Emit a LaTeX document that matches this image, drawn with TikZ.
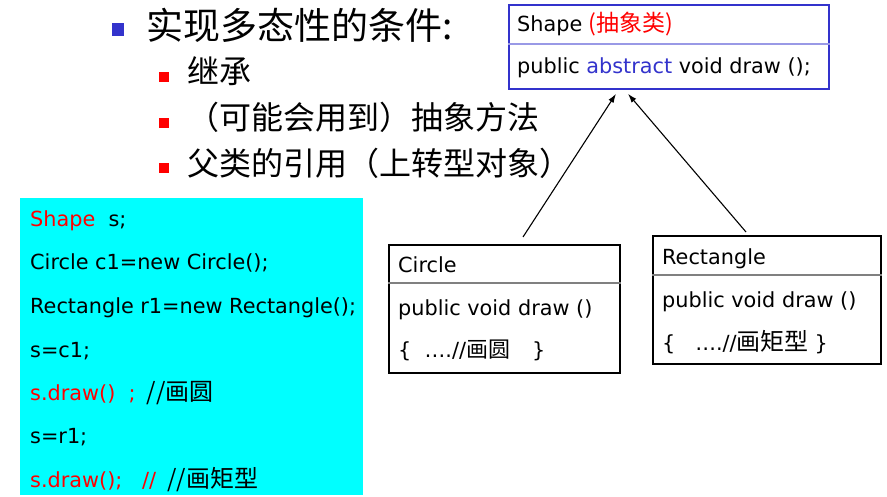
\documentclass[tikz,border=0pt]{standalone}
\usepackage{fontspec}
\setmainfont{DejaVu Sans}
\newfontfamily\cjk{Noto Sans CJK SC}
\usetikzlibrary{arrows.meta}
\definecolor{bblue}{HTML}{3333CC}
\definecolor{divblue}{HTML}{9999E6}
\definecolor{cyanbg}{HTML}{00FFFF}
\definecolor{rred}{HTML}{FF0000}
\newcommand{\cjkin}[1]{{\cjk\fontsize{23}{27}\selectfont #1}}
\newcommand{\cjkcode}[1]{{\cjk\fontsize{24}{28}\selectfont #1}}
\newcommand{\cjkbox}[1]{{\cjk\fontsize{22}{26}\selectfont #1}}
\begin{document}
\begin{tikzpicture}[x=1pt,y=-1pt,
  umlbox/.style={draw=black, line width=1.8pt, anchor=north west, inner sep=0pt},
  txt/.style={anchor=base west, inner sep=0pt, font=\fontsize{20.8}{25}\selectfont},
  divider/.style={line width=1.3pt, draw=gray},
  bluesq/.style={fill=bblue, draw=none, anchor=north west, inner sep=0pt, minimum width=12pt, minimum height=13pt},
  redsq/.style={fill=rred, draw=none, anchor=north west, inner sep=0pt, minimum width=10pt, minimum height=10pt},
  heading/.style={anchor=base west, inner sep=0pt, font=\cjk\fontsize{37}{42}\selectfont},
  subitem/.style={anchor=base west, inner sep=0pt, font=\cjk\fontsize{32}{38}\selectfont},
  inherit/.style={line width=1.1pt, -{Latex[length=9pt,width=6pt]}}
]
\useasboundingbox (0,0) rectangle (887,497);
\fill[white] (0,0) rectangle (887,497);

% headings
\node[bluesq] (b0) at (112,23) {};
\node[heading] (h0) at (146,40) {实现多态性的条件:};
\node[redsq] (b1) at (159,72) {};
\node[subitem] (h1) at (187,84) {继承};
\node[redsq] (b2) at (159,118) {};
\node[subitem] (h2) at (187,130) {（可能会用到）抽象方法};
\node[redsq] (b3) at (159,163) {};
\node[subitem] (h3) at (187,176) {父类的引用（上转型对象）};

% Shape box
\node[umlbox, draw=bblue, minimum width=320pt, minimum height=84pt] (shape) at (508,4) {};
\draw[line width=1.3pt, draw=divblue] (shape.west |- 0,44) coordinate (sdl) -- (shape.east |- 0,44) coordinate (sdr);
\node[txt] (st) at (517,32) {Shape \textcolor{rred}{\cjkin{(抽象类)}}};
\node[txt] (sm) at (517,74) {public \textcolor{bblue}{abstract} void draw ();};

% Circle box
\node[umlbox, minimum width=231pt, minimum height=128pt] (circ) at (388,244) {};
\draw[divider] (circ.west |- 0,283) -- (circ.east |- 0,283);
\node[txt] (ct) at (398,273) {Circle};
\node[txt] (cm) at (398,316) {public void draw ()};
\node[txt] (cb) at (398,358) {\{\ \ ….//\cjkbox{画圆}\hspace{22pt}\}};

% Rectangle box
\node[umlbox, minimum width=228pt, minimum height=128pt] (rect) at (652,235) {};
\draw[divider] (rect.west |- 0,275) -- (rect.east |- 0,275);
\node[txt] (rt) at (662,265) {Rectangle};
\node[txt] (rm) at (662,308) {public void draw ()};
\node[txt] (rb) at (662,350) {\{\ \ \ ….//\cjkcode{画矩型}\hspace{6pt}\}};

% arrows
\draw[inherit] ([xshift=135pt,yshift=7pt]circ.north west) -- ([xshift=108pt,yshift=-4pt]shape.south west);
\draw[inherit] ([xshift=94pt,yshift=3pt]rect.north west) -- ([xshift=120pt,yshift=-4pt]shape.south west);

% code box
\node[fill=cyanbg, anchor=north west, inner sep=0pt, minimum width=343pt, minimum height=297pt] (code) at (20,198) {};
\node[txt] (l1) at (30,227) {\textcolor{rred}{Shape}\ \ s;};
\node[txt] (l2) at (30,270) {Circle c1=new Circle();};
\node[txt] (l3) at (30,313) {Rectangle r1=new Rectangle();};
\node[txt] (l4) at (30,357) {s=c1;};
\node[txt] (l5) at (30,400) {\textcolor{rred}{s.draw()\ \ ;}\hspace{11pt}\cjkcode{//画圆}};
\node[txt] (l6) at (30,443) {s=r1;};
\node[txt] (l7) at (30,487) {\textcolor{rred}{s.draw();\ \ \ //}\hspace{11pt}\cjkcode{//画矩型}};
\end{tikzpicture}
\end{document}
